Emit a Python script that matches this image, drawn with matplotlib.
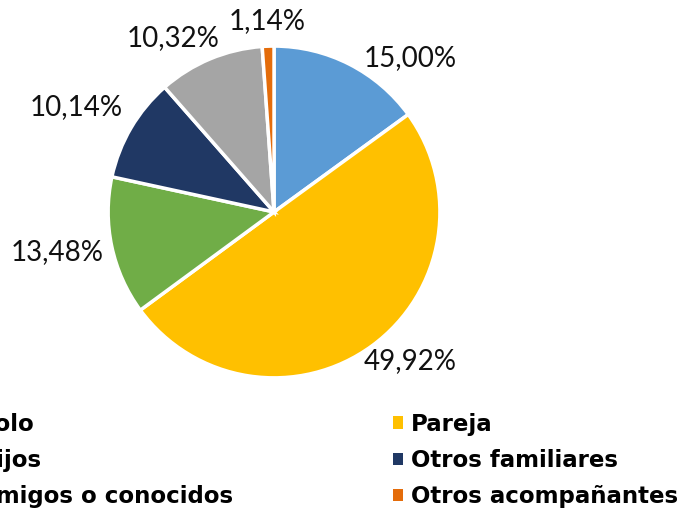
import matplotlib
matplotlib.use('Agg')
import matplotlib.pyplot as plt
from matplotlib.patches import Patch

# data
categories = ['Solo', 'Pareja', 'Hijos', 'Otros familiares',
              'Amigos o conocidos', 'Otros acompañantes']
values = [15.00, 49.92, 13.48, 10.14, 10.32, 1.14]
colors = ['#5B9BD5', '#FFC000', '#70AD47', '#203864', '#A5A5A5', '#E46C0A']

# where Excel put the labels (in pie radii, pie centre = 0,0)
label_pos = [(0.82, 0.93), (0.82, -0.90), (-1.31, -0.24),
             (-1.19, 0.63), (-0.61, 1.05), (-0.04, 1.15)]

plt.rcParams['font.family'] = ['Lato', 'DejaVu Sans']

fig = plt.figure(figsize=(6.88, 5.12), dpi=100)
ax = fig.add_axes([0.157, 0.262, 0.4826, 0.648])

wedges, texts = ax.pie(
    values, colors=colors, startangle=90, counterclock=False, radius=1.0,
    wedgeprops=dict(edgecolor='white', linewidth=2.5))
for v, (x, y) in zip(values, label_pos):
    ax.text(x, y, ('%.2f%%' % v).replace('.', ','), ha='center', va='center',
            fontsize=20, color='#111111', clip_on=False)
ax.set_xlim(-1, 1)
ax.set_ylim(-1, 1)
ax.set_aspect('equal')

# legend in two halves, the left one runs off the edge like the original
leg_kw = dict(frameon=False, prop=dict(family='DejaVu Sans', size=16.5, weight='bold'),
              handlelength=0.45, handleheight=0.45, handletextpad=0.33,
              labelspacing=0.58, borderpad=0, borderaxespad=0)
left = [0, 2, 4]
right = [1, 3, 5]
leg1 = fig.legend([Patch(facecolor=colors[i]) for i in left],
                  [categories[i] for i in left], loc='upper right',
                  bbox_to_anchor=(233 / 688, 0.194), **leg_kw)
leg2 = fig.legend([Patch(facecolor=colors[i]) for i in right],
                  [categories[i] for i in right], loc='upper left',
                  bbox_to_anchor=(393 / 688, 0.194), **leg_kw)

fig.savefig('out.png', dpi=100)
